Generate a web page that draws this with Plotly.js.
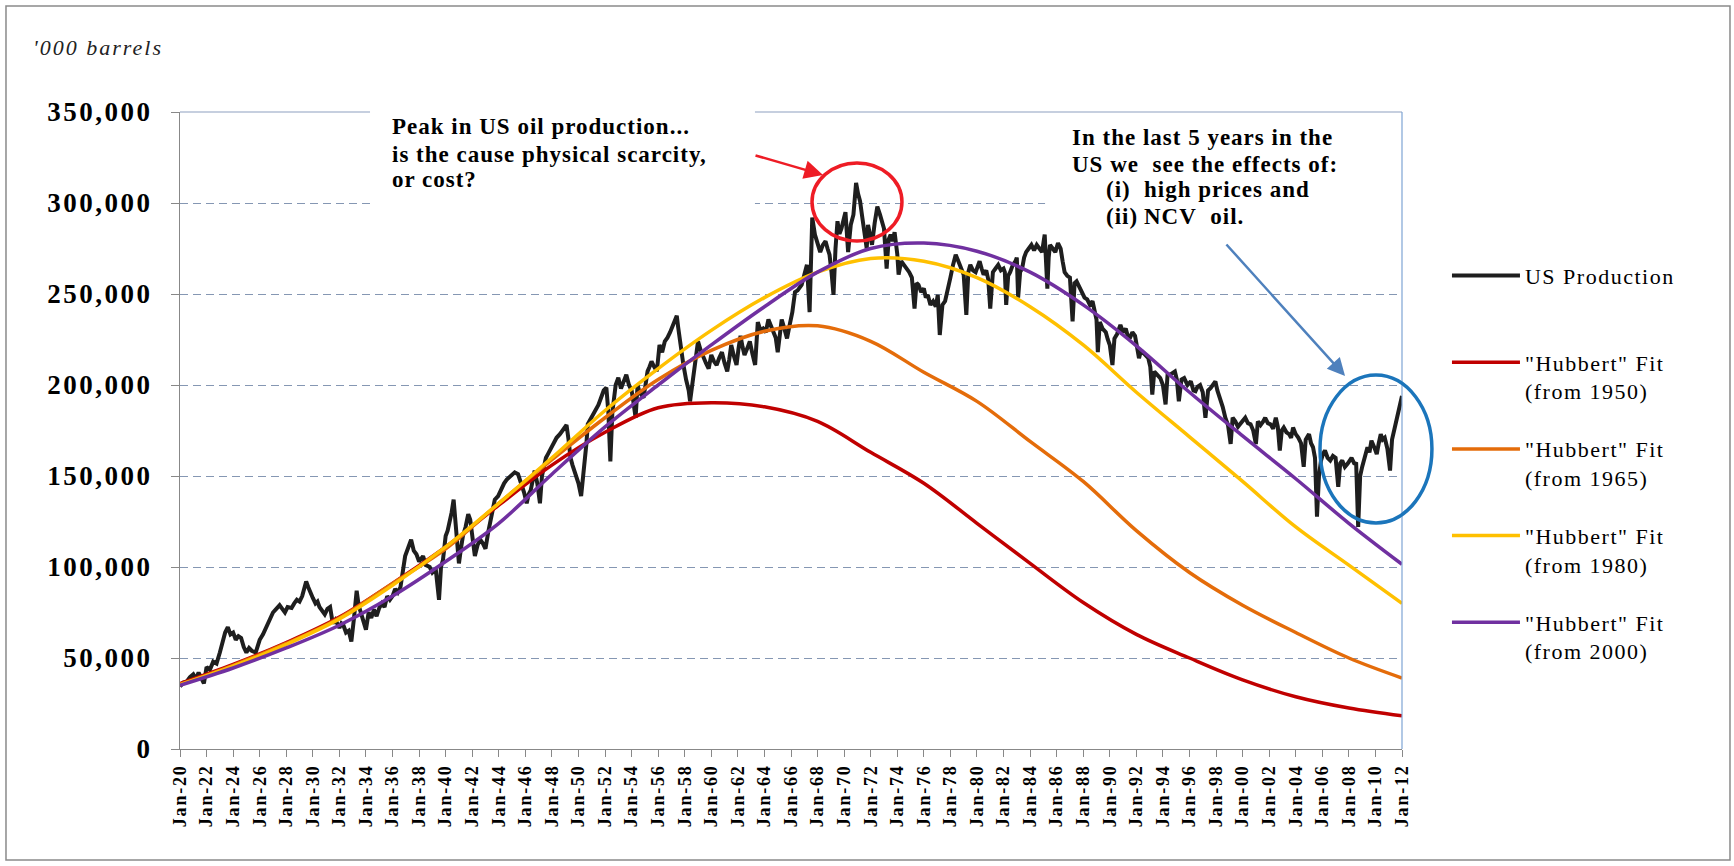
<!DOCTYPE html>
<html>
<head>
<meta charset="utf-8">
<script src="https://cdn.plot.ly/plotly-3.0.1.min.js"></script>
<style>
  html, body { margin: 0; padding: 0; background: #ffffff; }
  #chart { width: 1734px; height: 866px; }
  .ytick text { letter-spacing: 2.5px; }
  .xtick text { letter-spacing: 1.8px; }
  .legendtext { letter-spacing: 1.5px; }
  .annotation-text { letter-spacing: 1px; }
  .annotation[data-index="0"] .annotation-text { letter-spacing: 2px; }
</style>
</head>
<body>
<div id="chart"></div>
<script>
// Axis ticks: every second January
const tickYears = [1920, 1922, 1924, 1926, 1928, 1930, 1932, 1934, 1936, 1938,
  1940, 1942, 1944, 1946, 1948, 1950, 1952, 1954, 1956, 1958,
  1960, 1962, 1964, 1966, 1968, 1970, 1972, 1974, 1976, 1978,
  1980, 1982, 1984, 1986, 1988, 1990, 1992, 1994, 1996, 1998,
  2000, 2002, 2004, 2006, 2008, 2010, 2012];
const tickLabels = ['Jan-20', 'Jan-22', 'Jan-24', 'Jan-26', 'Jan-28', 'Jan-30', 'Jan-32', 'Jan-34', 'Jan-36', 'Jan-38',
  'Jan-40', 'Jan-42', 'Jan-44', 'Jan-46', 'Jan-48', 'Jan-50', 'Jan-52', 'Jan-54', 'Jan-56', 'Jan-58',
  'Jan-60', 'Jan-62', 'Jan-64', 'Jan-66', 'Jan-68', 'Jan-70', 'Jan-72', 'Jan-74', 'Jan-76', 'Jan-78',
  'Jan-80', 'Jan-82', 'Jan-84', 'Jan-86', 'Jan-88', 'Jan-90', 'Jan-92', 'Jan-94', 'Jan-96', 'Jan-98',
  'Jan-00', 'Jan-02', 'Jan-04', 'Jan-06', 'Jan-08', 'Jan-10', 'Jan-12'];

// US monthly crude production ('000 barrels), [year, value]
const prodEra1 = [
  [1920.0, 34400], [1920.25, 36500], [1920.5, 37000], [1920.75, 39500], [1921.0, 41000], [1921.2, 38500],
  [1921.4, 42000], [1921.6, 39000], [1921.8, 36000], [1922.0, 45000], [1922.25, 43500], [1922.5, 48000],
  [1922.75, 47000], [1923.0, 53000], [1923.2, 58000], [1923.4, 64000], [1923.6, 67000], [1923.8, 63000],
  [1924.0, 64000], [1924.2, 60000], [1924.4, 62000], [1924.6, 61000], [1924.8, 56000], [1925.0, 53000],
  [1925.2, 55500], [1925.4, 54000], [1925.7, 53000], [1926.0, 60000], [1926.25, 63000], [1926.5, 67000],
  [1926.75, 71000], [1927.0, 75000], [1927.25, 77000], [1927.5, 79000], [1927.7, 77000], [1927.9, 75000],
  [1928.1, 78000], [1928.4, 77500], [1928.6, 80000], [1928.8, 82000], [1929.0, 81000], [1929.2, 84000],
  [1929.35, 88000], [1929.5, 92000], [1929.65, 89000], [1929.8, 86000], [1930.0, 83000], [1930.2, 80000],
  [1930.35, 81000], [1930.5, 78000], [1930.7, 76000], [1930.9, 74000], [1931.1, 77000], [1931.3, 78000],
  [1931.5, 69000], [1931.7, 71000], [1932.0, 66500], [1932.15, 69000], [1932.3, 68000], [1932.5, 64000],
  [1932.7, 65000], [1932.9, 59000], [1933.1, 72000], [1933.3, 87000], [1933.45, 79000], [1933.6, 75000],
  [1933.8, 69000], [1934.0, 65600], [1934.2, 75000], [1934.4, 72000], [1934.6, 76600], [1934.8, 73000],
  [1935.0, 77500], [1935.2, 80000], [1935.4, 78000], [1935.6, 84000], [1935.8, 82000], [1936.0, 84000],
  [1936.2, 88000], [1936.4, 86000], [1936.6, 89000], [1936.8, 97000], [1936.95, 106000], [1937.2, 111000],
  [1937.4, 115000], [1937.6, 109000], [1937.8, 107000], [1938.0, 103000], [1938.3, 106000], [1938.5, 101000],
  [1938.8, 100000], [1939.0, 97000], [1939.25, 99000], [1939.5, 82000], [1939.65, 100000], [1939.8, 104000],
  [1940.0, 117000], [1940.15, 120000], [1940.3, 124000], [1940.45, 130000], [1940.6, 137000], [1940.75, 122000],
  [1940.9, 111000], [1941.0, 102000], [1941.15, 110000], [1941.3, 117000], [1941.5, 122000], [1941.7, 129000],
  [1941.85, 126000], [1942.0, 118000], [1942.2, 106000], [1942.4, 112000], [1942.6, 115000], [1942.8, 113000],
  [1943.0, 110000], [1943.2, 119000], [1943.45, 128000], [1943.7, 137000], [1943.95, 139000], [1944.2, 143000],
  [1944.4, 146000], [1944.6, 148000], [1944.9, 150000], [1945.2, 152000]
];
const prodEra2 = [
  [1945.45, 151000], [1945.7, 146000], [1945.9, 141000], [1946.1, 135000], [1946.25, 140000], [1946.4, 142000],
  [1946.55, 148000], [1946.7, 153000], [1946.9, 146000], [1947.1, 135000], [1947.25, 150000], [1947.4, 155000],
  [1947.55, 160000], [1947.7, 162000], [1947.9, 165000], [1948.1, 168000], [1948.35, 171000], [1948.6, 173000],
  [1948.85, 176000], [1949.1, 178000], [1949.25, 170000], [1949.4, 160000], [1949.55, 156000], [1949.7, 153000],
  [1949.85, 149000], [1950.0, 146000], [1950.2, 139000], [1950.35, 150000], [1950.5, 157000], [1950.6, 168000],
  [1950.7, 178500], [1950.9, 181000], [1951.1, 184000], [1951.3, 186000], [1951.5, 189000], [1951.7, 193000],
  [1951.9, 197000], [1952.1, 198500], [1952.25, 185000], [1952.4, 158000], [1952.55, 185000], [1952.8, 200000],
  [1953.0, 204000], [1953.2, 198000], [1953.4, 202000], [1953.6, 205700], [1953.8, 200000], [1954.0, 197000],
  [1954.15, 190000], [1954.3, 182000], [1954.45, 200000], [1954.6, 196000], [1954.9, 193000], [1955.05, 202000],
  [1955.2, 207500], [1955.35, 210000], [1955.5, 213000], [1955.7, 210000], [1955.9, 207500], [1956.1, 222000],
  [1956.3, 218000], [1956.5, 224000], [1956.7, 226000], [1956.9, 229000], [1957.1, 233000], [1957.25, 236000],
  [1957.4, 238000], [1957.5, 232000], [1957.6, 225600], [1957.75, 218000], [1957.9, 211000], [1958.1, 203000],
  [1958.3, 197000], [1958.4, 191000], [1958.55, 200000], [1958.7, 207500], [1958.85, 216000], [1959.0, 224000],
  [1959.2, 219000], [1959.4, 215000], [1959.6, 212000], [1959.8, 209000], [1960.0, 216500], [1960.2, 213000],
  [1960.4, 211000], [1960.6, 215000], [1960.8, 218000], [1961.0, 212000], [1961.2, 207500], [1961.35, 214000],
  [1961.5, 222000], [1961.7, 216000], [1961.9, 211000], [1962.05, 220000], [1962.2, 227000], [1962.35, 221000],
  [1962.5, 216500], [1962.7, 220000], [1962.9, 224000], [1963.1, 217000], [1963.3, 211000], [1963.5, 234600],
  [1963.7, 230000], [1963.9, 231000], [1964.1, 229000], [1964.3, 236000], [1964.5, 232000], [1964.7, 229000],
  [1964.85, 226000], [1965.0, 218000], [1965.15, 230000], [1965.3, 236000], [1965.5, 231000], [1965.7, 225600],
  [1965.9, 233000], [1966.1, 240000], [1966.3, 251000]
];
const prodEra3 = [
  [1966.5, 252000], [1966.8, 255000], [1967.0, 261000], [1967.2, 266000], [1967.4, 240000], [1967.6, 292000],
  [1967.8, 282600], [1968.0, 277000], [1968.2, 273000], [1968.4, 277000], [1968.6, 279000], [1968.75, 275000],
  [1968.9, 271600], [1969.05, 262000], [1969.2, 249500], [1969.35, 275000], [1969.5, 290000], [1969.65, 283000],
  [1969.8, 286000], [1970.0, 292000], [1970.1, 295000], [1970.3, 273000], [1970.5, 288000], [1970.7, 293600],
  [1970.9, 311000], [1971.05, 305000], [1971.2, 301000], [1971.35, 293000], [1971.5, 286000], [1971.7, 275000],
  [1971.8, 288000], [1971.95, 282000], [1972.1, 277000], [1972.3, 289000], [1972.5, 298000], [1972.7, 293600],
  [1972.85, 290000], [1973.0, 286000], [1973.2, 264000], [1973.35, 280000], [1973.5, 282600], [1973.65, 279000],
  [1973.8, 284000], [1974.0, 272000], [1974.1, 260600], [1974.3, 268000], [1974.5, 266000], [1974.7, 264000],
  [1974.9, 262000], [1975.1, 259000], [1975.3, 242000], [1975.45, 256000], [1975.6, 255000], [1975.8, 251000],
  [1976.0, 253000], [1976.15, 248000], [1976.3, 249500], [1976.5, 244000], [1976.7, 246000], [1976.9, 243000],
  [1977.05, 249500], [1977.2, 227500], [1977.4, 244000], [1977.6, 246000], [1977.8, 254000], [1978.0, 259000],
  [1978.2, 266000], [1978.4, 271600], [1978.6, 268000], [1978.8, 264000], [1979.0, 260600], [1979.2, 238500],
  [1979.35, 262000], [1979.5, 266000], [1979.7, 263000], [1979.9, 262000], [1980.05, 265000], [1980.2, 268000],
  [1980.35, 264000], [1980.5, 260600], [1980.7, 263000], [1980.85, 258000], [1981.0, 242000], [1981.2, 262000],
  [1981.4, 264000], [1981.6, 266000], [1981.8, 263000], [1982.0, 264000], [1982.1, 262000], [1982.2, 244000],
  [1982.35, 260000], [1982.5, 262000], [1982.7, 266000], [1982.9, 268000], [1983.0, 270000], [1983.1, 248000],
  [1983.25, 262000], [1983.4, 264000], [1983.55, 270000], [1983.7, 273000], [1983.9, 275000], [1984.1, 277000],
  [1984.3, 274000], [1984.5, 277000], [1984.7, 275000], [1984.9, 273000], [1985.1, 282600], [1985.2, 270000],
  [1985.3, 253000], [1985.4, 270000], [1985.5, 277000], [1985.7, 275000], [1985.9, 273000], [1986.1, 278000],
  [1986.3, 275000], [1986.45, 268000], [1986.6, 262000], [1986.8, 260000], [1987.0, 259000], [1987.2, 235000],
  [1987.35, 256000], [1987.5, 257000], [1987.7, 254000], [1987.9, 251400]
];
const prodEra4 = [
  [1988.1, 248000], [1988.3, 247000], [1988.5, 244000], [1988.7, 246000], [1988.85, 242000], [1989.0, 236000],
  [1989.1, 218000], [1989.25, 234600], [1989.45, 231000], [1989.7, 229000], [1989.85, 225000], [1990.0, 222000],
  [1990.2, 211000], [1990.35, 225500], [1990.55, 228000], [1990.8, 233000], [1991.0, 229000], [1991.2, 231000],
  [1991.35, 227000], [1991.5, 225500], [1991.7, 229000], [1991.9, 227000], [1992.05, 221000], [1992.2, 214700],
  [1992.35, 219000], [1992.5, 218000], [1992.7, 216000], [1992.9, 214700], [1993.05, 210000], [1993.2, 194700],
  [1993.35, 207400], [1993.6, 205000], [1993.8, 203800], [1994.0, 200000], [1994.2, 189300], [1994.35, 205600],
  [1994.6, 206000], [1994.9, 207400], [1995.05, 203000], [1995.2, 191000], [1995.4, 203000], [1995.6, 203800],
  [1995.85, 200000], [1996.1, 202000], [1996.3, 197000], [1996.45, 196600], [1996.6, 199000], [1996.8, 200000],
  [1997.0, 196000], [1997.2, 182000], [1997.4, 197000], [1997.6, 198400], [1997.8, 201000], [1997.95, 202000],
  [1998.1, 197000], [1998.3, 193000], [1998.5, 188000], [1998.7, 182000], [1998.9, 178000], [1999.1, 167600],
  [1999.25, 182000], [1999.45, 180000], [1999.65, 177000], [1999.8, 178400], [2000.0, 180000], [2000.2, 182000],
  [2000.4, 179000], [2000.6, 178400], [2000.8, 175000], [2001.0, 167600], [2001.15, 180000], [2001.35, 178000],
  [2001.55, 180000], [2001.7, 182000], [2001.9, 179000], [2002.1, 178400], [2002.3, 176000], [2002.5, 182000],
  [2002.65, 177000], [2002.8, 164000], [2002.95, 175000], [2003.1, 176600], [2003.3, 174000], [2003.5, 173000],
  [2003.65, 171000], [2003.8, 176600], [2004.0, 173000], [2004.2, 171000], [2004.4, 168000], [2004.6, 155000],
  [2004.75, 170000], [2005.0, 173000], [2005.15, 168000], [2005.3, 165800], [2005.45, 160000], [2005.6, 127700],
  [2005.75, 150000], [2005.9, 158500], [2006.05, 162000], [2006.2, 164000], [2006.4, 160000], [2006.6, 158500],
  [2006.8, 161000], [2007.0, 160000], [2007.2, 144000], [2007.35, 157000], [2007.5, 158500], [2007.7, 155000],
  [2007.9, 156700], [2008.05, 158000], [2008.2, 160000], [2008.4, 157000], [2008.55, 156700], [2008.7, 122000],
  [2008.85, 150000], [2009.0, 155000], [2009.2, 160000], [2009.4, 165800], [2009.55, 163000], [2009.7, 169400],
  [2009.9, 166000], [2010.1, 162000], [2010.25, 168000], [2010.4, 173000], [2010.55, 170000], [2010.7, 171000],
  [2010.9, 165000], [2011.1, 153000], [2011.25, 170000], [2011.4, 174800], [2011.55, 178000], [2011.7, 182000],
  [2011.85, 187000], [2012.0, 194000]
];

// "Hubbert" fitted curves, sampled every four years
const hubYears = [1920, 1924, 1928, 1932, 1936, 1940, 1944, 1948, 1952, 1956, 1960, 1964,
  1968, 1972, 1976, 1980, 1984, 1988, 1992, 1996, 2000, 2004, 2008, 2012];
const hub1950 = [36000, 46500, 58500, 72500, 91000, 111000, 134000, 156000, 174000, 187500, 190300, 188000,
  180000, 163000, 146000, 124000, 102000, 80500, 63000, 50000, 38000, 28700, 22500, 18200];
const hub1965 = [35500, 46000, 58000, 72000, 91000, 110000, 135000, 159000, 182000, 203000, 219000, 229500,
  232500, 224000, 207000, 191000, 169000, 147000, 120000, 97000, 79000, 64000, 50000, 39000];
const hub1980 = [35300, 45500, 57500, 71500, 90000, 111000, 135000, 160000, 186000, 209000, 230000, 248000,
  262000, 269500, 268000, 259000, 243000, 222000, 196000, 171500, 147000, 122000, 101000, 80000];
const hub2000 = [35000, 44500, 55500, 68000, 84000, 103000, 124000, 151000, 177000, 200000, 222000, 243000,
  262000, 275000, 278000, 273500, 262000, 244000, 221500, 196000, 172000, 148500, 124000, 101500];

const seriesNames = ['US Production<br>&nbsp;', '"Hubbert" Fit<br>(from 1950)', '"Hubbert" Fit<br>(from 1965)',
  '"Hubbert" Fit<br>(from 1980)', '"Hubbert" Fit<br>(from 2000)'];
const seriesColors = ['#1e1e1e', '#c00000', '#e46c0a', '#ffc000', '#7030a0'];

const production = prodEra1.concat(prodEra2, prodEra3, prodEra4);
const prodX = production.map(p => p[0]);
const prodY = production.map(p => p[1]);

const fits = [hub1950, hub1965, hub1980, hub2000];

const traces = [{
  type: 'scatter', mode: 'lines', x: prodX, y: prodY,
  name: seriesNames[0], legendgroup: 'g0',
  line: { color: seriesColors[0], width: 4 }
}];
fits.forEach((vals, i) => {
  traces.push({
    type: 'scatter', mode: 'lines', x: hubYears, y: vals,
    name: seriesNames[i + 1], legendgroup: 'g' + (i + 1),
    line: { color: seriesColors[i + 1], width: 3.5, shape: 'spline', smoothing: 1 }
  });
});

const serif = 'Liberation Serif, Times New Roman, serif';
const boldText = { family: serif, size: 23, weight: 'bold', color: '#000' };

function note(text, x, y) {
  return { text: text, xref: 'paper', yref: 'paper', x: x, y: y, xanchor: 'left', yanchor: 'middle',
    showarrow: false, align: 'left', font: boldText };
}

const annotations = [
  { text: "'000 barrels", xref: 'paper', yref: 'paper', x: -0.117, y: 1.1005, xanchor: 'left', yanchor: 'middle',
    showarrow: false, font: { family: serif, size: 22, style: 'italic', color: '#222' } },
  note('Peak in US oil production...', 0.1718, 0.9765),
  note('is the cause physical scarcity,', 0.1718, 0.9325),
  note('or cost?', 0.1718, 0.8933),
  note('In the last 5 years in the', 0.7283, 0.9592),
  note('US we&nbsp; see the effects of:', 0.7283, 0.9168),
  note('(i)', 0.7561, 0.8776),
  note('high prices and', 0.7872, 0.8776),
  note('(ii)', 0.7561, 0.8367),
  note('NCV&nbsp; oil.', 0.7872, 0.8367),
  { text: '', xref: 'paper', yref: 'paper', x: 0.5262, y: 0.9011, ax: -69, ay: -20,
    showarrow: true, arrowhead: 2, arrowsize: 1.5, arrowwidth: 2.5, arrowcolor: '#ee1c25', standoff: 0 },
  { text: '', xref: 'paper', yref: 'paper', x: 0.9534, y: 0.5856, ax: -120, ay: -133,
    showarrow: true, arrowhead: 2, arrowsize: 1.4, arrowwidth: 2.5, arrowcolor: '#4f81bd', standoff: 0 }
];

const shapes = [
  // outer frame
  { type: 'rect', xref: 'paper', yref: 'paper', x0: -0.1424, x1: 1.2684, y0: -0.1743, y1: 1.1664,
    line: { color: '#8a8a8a', width: 1.5 } },
  // plot-area top and right edges
  { type: 'line', xref: 'paper', yref: 'paper', x0: 0, x1: 1, y0: 1, y1: 1,
    line: { color: '#8ea0bf', width: 1.2 } },
  { type: 'line', xref: 'paper', yref: 'paper', x0: 1, x1: 1, y0: 0, y1: 1,
    line: { color: '#7ea4d4', width: 1.2 } },
  // white panels behind the two notes
  { type: 'rect', xref: 'paper', yref: 'paper', x0: 0.1555, x1: 0.4705, y0: 0.8462, y1: 1.0188,
    fillcolor: '#ffffff', line: { width: 0 } },
  { type: 'rect', xref: 'paper', yref: 'paper', x0: 0.7079, x1: 0.9984, y0: 0.8414, y1: 0.9906,
    fillcolor: '#ffffff', line: { width: 0 } },
  // highlight ellipses
  { type: 'circle', xref: 'paper', yref: 'paper', x0: 0.5172, x1: 0.5908, y0: 0.7975, y1: 0.9199,
    line: { color: '#ee1c25', width: 3.5 } },
  { type: 'circle', xref: 'paper', yref: 'paper', x0: 0.9329, x1: 1.0245, y0: 0.3548, y1: 0.5871,
    line: { color: '#1b75bb', width: 3.5 } }
];

const layout = {
  width: 1734, height: 866,
  margin: { l: 180, r: 332, t: 112, b: 117 },
  paper_bgcolor: '#ffffff', plot_bgcolor: '#ffffff',
  showlegend: true,
  xaxis: {
    range: [1920, 2012], tickmode: 'array', tickvals: tickYears, ticktext: tickLabels,
    tickangle: -90, ticks: 'outside', ticklen: 7, tickcolor: '#888888', tickwidth: 1,
    showline: true, linecolor: '#888888', linewidth: 1.2, showgrid: false, zeroline: false,
    tickfont: { family: serif, size: 18, weight: 'bold', color: '#000' }, fixedrange: true
  },
  yaxis: {
    range: [0, 350000], tick0: 0, dtick: 50000, tickformat: ',d',
    ticks: 'outside', ticklen: 8, tickcolor: '#888888', tickwidth: 1,
    showline: true, linecolor: '#888888', linewidth: 1.2, ticklabelstandoff: 13,
    showgrid: true, gridcolor: '#8597b3', griddash: '8px,5px', gridwidth: 1, zeroline: false,
    tickfont: { family: serif, size: 27, weight: 'bold', color: '#000' }, fixedrange: true
  },
  legend: {
    x: 1.0368, y: 0.776, xanchor: 'left', yanchor: 'top', valign: 'top',
    itemwidth: 68, tracegroupgap: 26.5, bgcolor: 'rgba(0,0,0,0)', borderwidth: 0,
    font: { family: serif, size: 22, color: '#000' }
  },
  shapes: shapes,
  annotations: annotations
};

Plotly.newPlot('chart', traces, layout, { staticPlot: true, displayModeBar: false });
</script>
</body>
</html>
